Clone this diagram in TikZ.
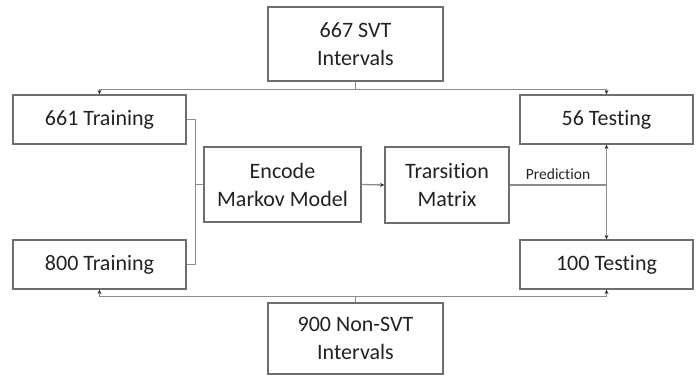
\documentclass[tikz,border=0pt]{standalone}
\usepackage{fontspec}
\setmainfont{Carlito}[Ligatures=CommonOff]
\usetikzlibrary{arrows.meta}
\definecolor{boxc}{HTML}{6E6E6E}
\definecolor{linec}{HTML}{8C8C8C}
\definecolor{txt}{HTML}{222222}
\begin{document}
\begin{tikzpicture}[x=1pt,y=-1pt,
  box/.style={draw=boxc,line width=1.2pt,inner sep=0pt,align=center,text=txt,
    font=\fontsize{22}{28}\selectfont},
  conn/.style={draw=linec,line width=1.3pt},
  arr/.style={conn,-{Stealth[length=4.5pt,width=4pt,color=black!80]}}]
\useasboundingbox (0,0) rectangle (699,377);
\node[box,minimum width=175pt,minimum height=74pt] (top) at (355.5,44) {667 SVT\\Intervals};
\node[box,minimum width=173pt,minimum height=49pt] (t661) at (99.5,119.5) {661 Training};
\node[box,minimum width=173pt,minimum height=49pt] (t56) at (606.5,119.5) {56 Testing};
\node[box,minimum width=157pt,minimum height=75pt] (enc) at (282.5,184.5) {Encode\\Markov Model};
\node[box,minimum width=124pt,minimum height=76pt] (trans) at (447,185) {Trarsition\\Matrix};
\node[box,minimum width=173pt,minimum height=49pt] (t800) at (99.5,264.5) {800 Training};
\node[box,minimum width=173pt,minimum height=49pt] (t100) at (606.5,264.5) {100 Testing};
\node[box,minimum width=175pt,minimum height=71pt] (bot) at (355.5,338.5) {900 Non-SVT\\Intervals};
% top split
\draw[conn] (top.south) -- ++(0,8) coordinate (tj);
\draw[arr] (tj) -| (t661.north);
\draw[arr] (tj) -| (t56.north);
% bottom split
\draw[conn] (bot.north) -- ++(0,-6) coordinate (bj);
\draw[arr] (bj) -| (t800.south);
\draw[arr] (bj) -| (t100.south);
% training bracket
\draw[conn] (t661.east) -- ++(9,0) |- (enc.west);
\draw[conn] (t800.east) -- ++(9,0) |- (enc.west);
% encode to transition
\draw[arr] (enc.east) -- (trans.west);
% prediction
\coordinate (pj) at (t56.south |- trans.east);
\draw[conn] (trans.east) -- node[above=1pt,text=txt,font=\fontsize{15.5}{17}\selectfont] (pl) {Prediction} (pj);
\draw[arr] (pj) -- (t56.south);
\draw[arr] (pj) -- (t100.north);
\end{tikzpicture}
\end{document}
